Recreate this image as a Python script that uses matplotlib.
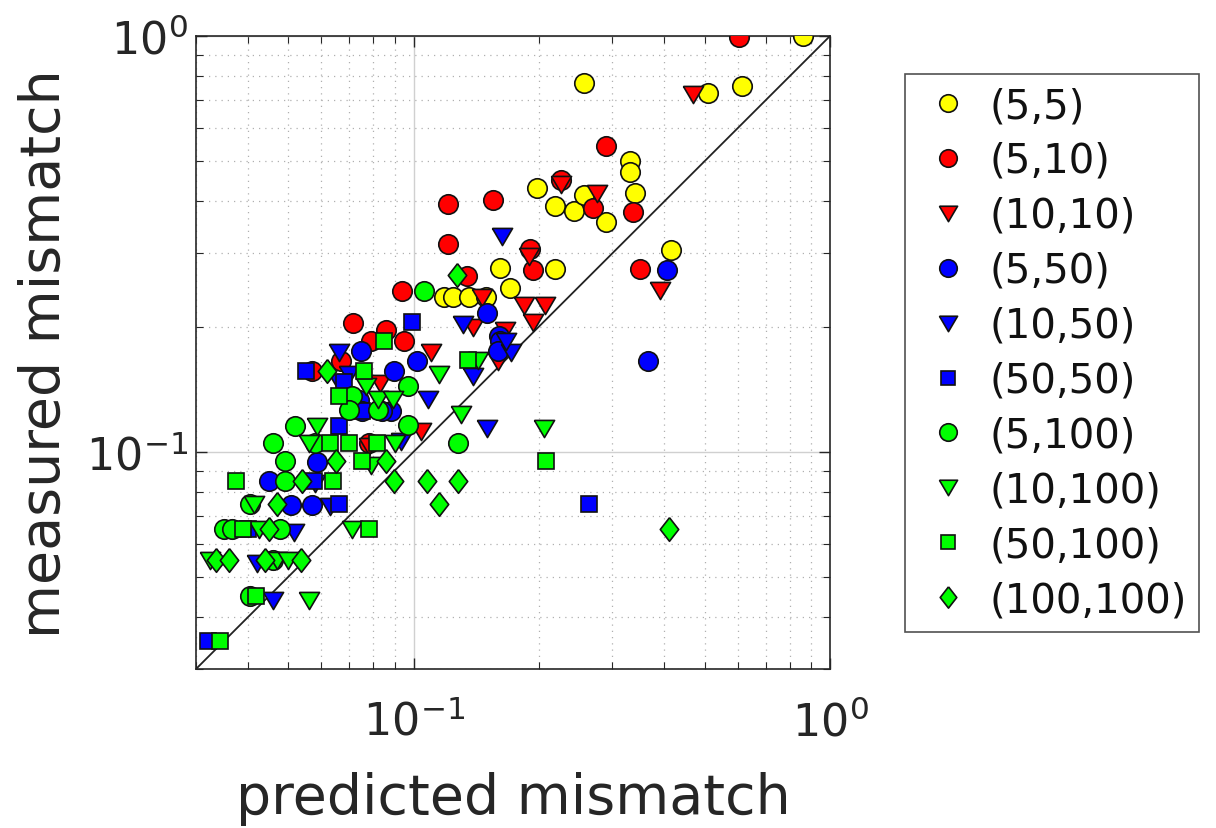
import matplotlib
matplotlib.use("Agg")
import matplotlib.pyplot as plt
from matplotlib.ticker import LogLocator, NullFormatter

plt.rcParams['font.family'] = ['DejaVu Sans']

labels = ['(5,5)', '(5,10)', '(10,10)', '(5,50)', '(10,50)', '(50,50)',
          '(5,100)', '(10,100)', '(50,100)', '(100,100)']

# (predicted, measured) pairs per series
s_5_5_x = [0.86, 0.257, 0.51, 0.615, 0.33, 0.33, 0.34, 0.198, 0.218, 0.243,
           0.257, 0.29, 0.415, 0.218, 0.161, 0.17, 0.118, 0.124, 0.136, 0.149]
s_5_5_y = [1.0, 0.77, 0.73, 0.76, 0.50, 0.47, 0.42, 0.43, 0.39, 0.38,
           0.415, 0.357, 0.306, 0.275, 0.277, 0.247, 0.236, 0.236, 0.236, 0.236]

s_5_10_x = [0.605, 0.29, 0.226, 0.27, 0.337, 0.35, 0.19, 0.194, 0.121, 0.155,
            0.121, 0.134, 0.094, 0.0714, 0.086, 0.079, 0.095, 0.067, 0.057, 0.078]
s_5_10_y = [0.995, 0.545, 0.45, 0.386, 0.377, 0.275, 0.308, 0.274, 0.395, 0.403,
            0.316, 0.265, 0.244, 0.204, 0.196, 0.185, 0.185, 0.165, 0.156, 0.105]

s_10_10_x = [0.47, 0.226, 0.276, 0.189, 0.39, 0.184, 0.207, 0.194, 0.166, 0.146,
             0.139, 0.11, 0.104, 0.159, 0.083, 0.078]
s_10_10_y = [0.725, 0.44, 0.42, 0.296, 0.245, 0.225, 0.225, 0.205, 0.196, 0.236,
             0.2, 0.174, 0.112, 0.165, 0.146, 0.103]

s_5_50_x = [0.405, 0.366, 0.15, 0.16, 0.161, 0.159, 0.0746, 0.102, 0.0895, 0.074,
            0.088, 0.084, 0.0585, 0.045, 0.0507, 0.057, 0.075]
s_5_50_y = [0.274, 0.165, 0.215, 0.19, 0.185, 0.175, 0.175, 0.165, 0.156, 0.133,
            0.125, 0.125, 0.0946, 0.085, 0.0746, 0.0746, 0.125]

s_10_50_x = [0.163, 0.131, 0.171, 0.139, 0.108, 0.15, 0.066, 0.07, 0.066, 0.063,
             0.0515, 0.042, 0.046, 0.058, 0.093, 0.167]
s_10_50_y = [0.33, 0.203, 0.174, 0.152, 0.134, 0.114, 0.174, 0.154, 0.147, 0.074,
             0.064, 0.054, 0.044, 0.084, 0.106, 0.185]

s_50_50_x = [0.099, 0.263, 0.055, 0.066, 0.0575, 0.066, 0.032, 0.075, 0.04, 0.068]
s_50_50_y = [0.205, 0.075, 0.156, 0.115, 0.085, 0.075, 0.035, 0.125, 0.065, 0.147]

s_5_100_x = [0.106, 0.097, 0.097, 0.128, 0.071, 0.070, 0.082, 0.052, 0.046, 0.049,
             0.049, 0.058, 0.0404, 0.035, 0.0367, 0.0477, 0.0404, 0.046]
s_5_100_y = [0.244, 0.144, 0.116, 0.105, 0.136, 0.126, 0.126, 0.115, 0.105, 0.095,
             0.085, 0.105, 0.075, 0.065, 0.065, 0.065, 0.045, 0.055]

s_10_100_x = [0.206, 0.115, 0.13, 0.143, 0.077, 0.082, 0.089, 0.090, 0.0585, 0.079,
              0.071, 0.056, 0.0414, 0.0425, 0.047, 0.050, 0.0324, 0.056]
s_10_100_y = [0.114, 0.154, 0.123, 0.166, 0.144, 0.134, 0.134, 0.105, 0.115, 0.093,
              0.065, 0.044, 0.075, 0.065, 0.055, 0.055, 0.055, 0.105]

s_50_100_x = [0.208, 0.135, 0.085, 0.076, 0.066, 0.063, 0.070, 0.0815, 0.075, 0.064,
              0.0374, 0.039, 0.078, 0.0418, 0.0343]
s_50_100_y = [0.095, 0.166, 0.185, 0.156, 0.136, 0.105, 0.105, 0.105, 0.095, 0.085,
              0.085, 0.065, 0.065, 0.045, 0.035]

s_100_100_x = [0.41, 0.127, 0.062, 0.065, 0.086, 0.0895, 0.1075, 0.128, 0.115, 0.054,
               0.047, 0.045, 0.0335, 0.036, 0.0439, 0.0536]
s_100_100_y = [0.065, 0.266, 0.156, 0.095, 0.095, 0.085, 0.085, 0.085, 0.075, 0.085,
               0.075, 0.065, 0.055, 0.055, 0.055, 0.055]

series_x = [s_5_5_x, s_5_10_x, s_10_10_x, s_5_50_x, s_10_50_x, s_50_50_x,
            s_5_100_x, s_10_100_x, s_50_100_x, s_100_100_x]
series_y = [s_5_5_y, s_5_10_y, s_10_10_y, s_5_50_y, s_10_50_y, s_50_50_y,
            s_5_100_y, s_10_100_y, s_50_100_y, s_100_100_y]

colors = ['#ffff00', '#ff0000', '#ff0000', '#0000ff', '#0000ff', '#0000ff',
          '#00ff00', '#00ff00', '#00ff00', '#00ff00']

tri_down = [(-1.0, 0.8), (1.0, 0.8), (0.0, -0.9), (-1.0, 0.8)]
diamond = [(0.0, 1.0), (0.78, 0.0), (0.0, -1.0), (-0.78, 0.0), (0.0, 1.0)]
markers = ['o', 'o', tri_down, 'o', tri_down, 's', 'o', tri_down, 's', diamond]
sizes = [14, 14, 14.5, 14, 14.5, 11, 14, 14.5, 11, 17]

fig = plt.figure(figsize=(12.16, 8.29), dpi=100)
ax = fig.add_axes([196/1216, 1-670/829, 634/1216, 633/829])

for xs, ys, c, m, ms, lab in zip(series_x, series_y, colors, markers, sizes, labels):
    ax.plot(xs, ys, linestyle='none', marker=m, markersize=ms,
            markerfacecolor=c, markeredgecolor='#111111', markeredgewidth=1.2,
            label=lab, zorder=3)

ax.plot([0.03, 1], [0.03, 1], color='#222222', lw=1.3, zorder=2)

ax.set_xscale('log')
ax.set_yscale('log')
ax.set_xlim(0.03, 1)
ax.set_ylim(0.03, 1)

ax.xaxis.set_major_locator(LogLocator(base=10, numticks=5))
ax.yaxis.set_major_locator(LogLocator(base=10, numticks=5))
ax.xaxis.set_minor_locator(LogLocator(base=10, subs=range(2, 10), numticks=20))
ax.yaxis.set_minor_locator(LogLocator(base=10, subs=range(2, 10), numticks=20))
ax.xaxis.set_minor_formatter(NullFormatter())
ax.yaxis.set_minor_formatter(NullFormatter())

ax.grid(True, which='major', color='#d0d0d0', lw=1.0, linestyle='-', zorder=0)
ax.grid(True, which='minor', color='#b0b0b0', lw=0.9, linestyle=(0, (1, 4)), zorder=0)
ax.set_axisbelow(True)

ax.tick_params(which='both', direction='in', top=True, right=True,
               colors='#262626', labelcolor='#262626')
ax.tick_params(which='major', length=8, width=1, labelsize=32)
ax.tick_params(axis='x', which='major', pad=22)
ax.tick_params(axis='y', which='major', pad=6)
ax.tick_params(which='minor', length=5, width=0.8)
for sp in ax.spines.values():
    sp.set_color('#262626')
    sp.set_linewidth(1.2)

ax.set_xlabel('predicted mismatch', fontsize=40, color='#262626')
ax.set_ylabel('measured mismatch', fontsize=40, color='#262626')
ax.xaxis.set_label_coords(0.5, (670 - 772) / 633)
ax.yaxis.set_label_coords((72 - 196) / 634, 0.5)

leg = ax.legend(loc='upper left', bbox_to_anchor=(905/1216, 1-75/829),
                bbox_transform=fig.transFigure, borderaxespad=0,
                fontsize=29, markerscale=0.9,
                frameon=True, fancybox=False, handlelength=1.55, handletextpad=0.25,
                labelspacing=0.37, borderpad=0.3)
leg.get_frame().set_edgecolor('#262626')
leg.get_frame().set_linewidth(1.2)
for t in leg.get_texts():
    t.set_color('#111111')

fig.savefig('out.png', dpi=100)
